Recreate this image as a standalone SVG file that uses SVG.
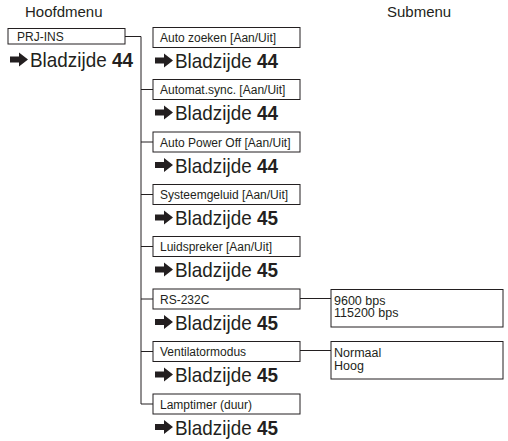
<svg xmlns="http://www.w3.org/2000/svg" width="508" height="441" viewBox="0 0 508 441">
<style>
.box{fill:#fff;stroke:#231f20;stroke-width:1}
.ln{fill:none;stroke:#231f20;stroke-width:1}
.t{font-family:"Liberation Sans",Arial,sans-serif;font-size:12px;fill:#231f20}
.s{font-family:"Liberation Sans",Arial,sans-serif;font-size:12.5px;fill:#231f20}
.h{font-family:"Liberation Sans",Arial,sans-serif;font-size:15px;fill:#231f20}
.bz{font-family:"Liberation Sans",Arial,sans-serif;font-size:21px;fill:#231f20}
.bn{font-weight:bold}
.ar{fill:#231f20}
</style>
<defs>
<g id="arrow"><polygon class="ar" points="0,-3 9,-3 9,-7 18,0 9,7 9,3 0,3"/></g>
</defs>
<rect width="508" height="441" fill="#fff"/>
<text class="h" x="25" y="17">Hoofdmenu</text>
<text class="h" x="387" y="17">Submenu</text>
<g id="connectors">
<path class="ln" d="M125,36.5H141V404H153"/>
<path class="ln" d="M141,89.5H153M141,142H153M141,194.5H153M141,246.5H153M141,299H153M141,351.5H153"/>
<path class="ln" d="M300,298.5H331M300,350.5H331"/>
</g>
<g id="prj-ins">
<rect class="box" x="8" y="28.5" width="117" height="15.5"/>
<text class="t" x="17" y="41">PRJ-INS</text>
<use href="#arrow" x="10" y="59.5"/>
<text class="bz" transform="translate(30,67) scale(0.9,1)">Bladzijde <tspan class="bn">44</tspan></text>
</g>
<g id="auto-zoeken">
<rect class="box" x="153" y="27.5" width="147" height="20"/>
<text class="t" x="160" y="42">Auto zoeken [Aan/Uit]</text>
<use href="#arrow" x="155" y="60.5"/>
<text class="bz" transform="translate(175,68) scale(0.9,1)">Bladzijde <tspan class="bn">44</tspan></text>
</g>
<g id="automat-sync">
<rect class="box" x="153" y="79.5" width="147" height="20"/>
<text class="t" x="160" y="94">Automat.sync. [Aan/Uit]</text>
<use href="#arrow" x="155" y="112.5"/>
<text class="bz" transform="translate(175,120) scale(0.9,1)">Bladzijde <tspan class="bn">44</tspan></text>
</g>
<g id="auto-power-off">
<rect class="box" x="153" y="132" width="147" height="20"/>
<text class="t" x="160" y="146.5">Auto Power Off [Aan/Uit]</text>
<use href="#arrow" x="155" y="165"/>
<text class="bz" transform="translate(175,172.5) scale(0.9,1)">Bladzijde <tspan class="bn">44</tspan></text>
</g>
<g id="systeemgeluid">
<rect class="box" x="153" y="184.5" width="147" height="20"/>
<text class="t" x="160" y="199">Systeemgeluid [Aan/Uit]</text>
<use href="#arrow" x="155" y="217.5"/>
<text class="bz" transform="translate(175,225) scale(0.9,1)">Bladzijde <tspan class="bn">45</tspan></text>
</g>
<g id="luidspreker">
<rect class="box" x="153" y="236.5" width="147" height="20"/>
<text class="t" x="160" y="251">Luidspreker [Aan/Uit]</text>
<use href="#arrow" x="155" y="269.5"/>
<text class="bz" transform="translate(175,277) scale(0.9,1)">Bladzijde <tspan class="bn">45</tspan></text>
</g>
<g id="rs-232c">
<rect class="box" x="153" y="289" width="147" height="20"/>
<text class="t" x="160" y="303.5">RS-232C</text>
<use href="#arrow" x="155" y="322"/>
<text class="bz" transform="translate(175,329.5) scale(0.9,1)">Bladzijde <tspan class="bn">45</tspan></text>
</g>
<g id="ventilatormodus">
<rect class="box" x="153" y="341.5" width="147" height="20"/>
<text class="t" x="160" y="356">Ventilatormodus</text>
<use href="#arrow" x="155" y="374.5"/>
<text class="bz" transform="translate(175,382) scale(0.9,1)">Bladzijde <tspan class="bn">45</tspan></text>
</g>
<g id="lamptimer">
<rect class="box" x="153" y="394" width="147" height="20"/>
<text class="t" x="160" y="408.5">Lamptimer (duur)</text>
<use href="#arrow" x="155" y="427"/>
<text class="bz" transform="translate(175,434.5) scale(0.9,1)">Bladzijde <tspan class="bn">45</tspan></text>
</g>
<g id="baud">
<rect class="box" x="331" y="289.5" width="172" height="37.5"/>
<text class="s" x="334" y="304.5">9600 bps<tspan x="334" dy="12.5">115200 bps</tspan></text>
</g>
<g id="fan">
<rect class="box" x="331" y="341.5" width="172" height="37.5"/>
<text class="s" x="334" y="357">Normaal<tspan x="334" dy="12.5">Hoog</tspan></text>
</g>
</svg>
